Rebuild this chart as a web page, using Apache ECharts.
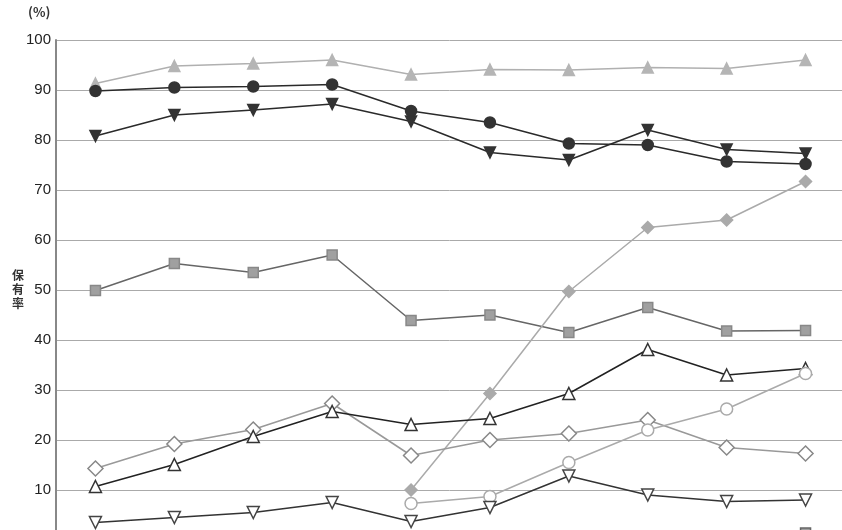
<!DOCTYPE html>
<html>
<head>
<meta charset="utf-8">
<script src="https://cdn.jsdelivr.net/npm/echarts@6/dist/echarts.min.js"></script>
<style>
html, body { margin: 0; padding: 0; background: #fff; }
#chart { width: 842px; height: 530px; }
</style>
</head>
<body>
<div id="chart"></div>
<script>
// x categories (labels fall below the visible area)
var categories = ['1', '2', '3', '4', '5', '6', '7', '8', '9', '10'];
var yTicks = [0, 100, 10];

var lightTriUp   = [91.3, 94.8, 95.3, 96, 93.1, 94.1, 94, 94.5, 94.3, 96];
var darkCircle   = [89.8, 90.5, 90.7, 91.1, 85.8, 83.5, 79.3, 79, 75.7, 75.2];
var darkTriDown  = [80.8, 85, 86, 87.2, 83.7, 77.5, 76, 82, 78.1, 77.3];
var graySquare   = [49.9, 55.3, 53.5, 57, 43.9, 45, 41.5, 46.5, 41.8, 41.9];
var grayDiamond  = [null, null, null, null, 10, 29.3, 49.7, 62.5, 64, 71.7];
var openDiamond  = [14.3, 19.2, 22.1, 27.3, 16.9, 20, 21.3, 24, 18.5, 17.3];
var openTriUp    = [10.7, 15.1, 20.7, 25.7, 23.1, 24.3, 29.3, 38.1, 33, 34.3];
var openCircle   = [null, null, null, null, 7.3, 8.7, 15.5, 22, 26.2, 33.3];
var openTriDown  = [3.5, 4.5, 5.5, 7.5, 3.7, 6.5, 12.8, 9, 7.7, 8];
var lowSquare    = [null, null, null, null, null, null, null, null, null, 1.4];

function line(data, lineColor, symbol, size, fill, border, rotate) {
    return {
        type: 'line',
        data: data,
        symbol: symbol,
        symbolSize: size,
        symbolRotate: rotate || 0,
        showAllSymbol: true,
        lineStyle: { color: lineColor, width: 1.5 },
        itemStyle: { color: fill, borderColor: border, borderWidth: 1.5 },
        emphasis: { disabled: true }
    };
}

var myChart = echarts.init(document.getElementById('chart'));
var option = {
    animation: false,
    backgroundColor: '#fff',
    grid: { left: 56, top: 40, width: 789, height: 500, outerBoundsMode: 'none', containLabel: false },
    graphic: [
        { type: 'text', left: 28, top: 6,
          style: { text: '(%)', font: 'bold 13px "Noto Sans CJK JP"', fill: '#333' } },
        { type: 'text', left: 12, top: 268,
          style: { text: '保\n有\n率', font: 'bold 12px "Noto Sans CJK JP"', lineHeight: 14, fill: '#333' } }
    ],
    xAxis: {
        type: 'category',
        data: categories,
        boundaryGap: true,
        axisLine: { show: false },
        axisTick: { show: false },
        axisLabel: { show: false }
    },
    yAxis: {
        type: 'value',
        min: yTicks[0],
        max: yTicks[1],
        interval: yTicks[2],
        axisLine: { show: true, lineStyle: { color: '#888', width: 2 } },
        axisTick: { show: false },
        axisLabel: { color: '#222', fontSize: 15, margin: 5, fontFamily: 'Liberation Sans' },
        splitLine: { lineStyle: { color: '#aaa', width: 1 } }
    },
    series: [
        line(lightTriUp, '#b0b0b0', 'triangle', 11, '#b5b5b5', '#b5b5b5'),
        line(darkCircle, '#2a2a2a', 'circle', 11, '#333', '#333'),
        line(darkTriDown, '#2a2a2a', 'triangle', 11, '#333', '#333', 180),
        line(graySquare, '#666', 'rect', 10, '#a0a0a0', '#888'),
        line(grayDiamond, '#aaa', 'diamond', 12, '#aaa', '#aaa'),
        line(openDiamond, '#999', 'diamond', 15, '#fff', '#888'),
        line(openTriUp, '#222', 'triangle', 12, '#fff', '#333'),
        line(openCircle, '#aaa', 'circle', 12, '#fff', '#aaa'),
        line(openTriDown, '#333', 'triangle', 12, '#fff', '#444', 180),
        line(lowSquare, '#777', 'rect', 10, '#a0a0a0', '#666')
    ]
};
myChart.setOption(option);
</script>
</body>
</html>
